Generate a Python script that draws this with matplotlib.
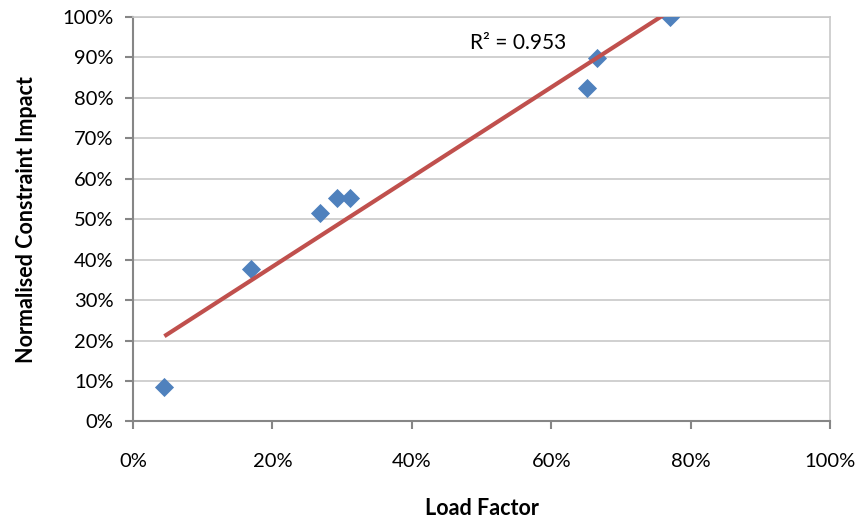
import matplotlib
matplotlib.use("Agg")
import matplotlib.pyplot as plt
import numpy as np
from matplotlib.ticker import PercentFormatter

plt.rcParams['font.family'] = ['Lato', 'DejaVu Sans']

# values (fractions)
load_factor = [0.045, 0.170, 0.268, 0.292, 0.311, 0.652, 0.665, 0.770]
constraint_impact = [0.086, 0.376, 0.514, 0.551, 0.551, 0.825, 0.899, 1.000]
r2_label = "R² = 0.953"

x = np.array(load_factor)
y = np.array(constraint_impact)
slope, intercept = np.polyfit(x, y, 1)   # linear trendline

fig = plt.figure(figsize=(8.62, 5.21), dpi=100)
ax = fig.add_axes([0.1543, 0.191, 0.8086, 0.777])

ax.scatter(x, y, marker='D', s=95, color='#4F81BD', zorder=3, linewidths=0)
xs = np.array([x.min(), x.max()])
ax.plot(xs, slope * xs + intercept, color='#C0504D', lw=3, solid_capstyle='butt', zorder=4)

ax.set_xlim(0, 1)
ax.set_ylim(0, 1)
ax.set_xticks(np.arange(0, 1.01, 0.2))
ax.set_yticks(np.arange(0, 1.01, 0.1))
ax.xaxis.set_major_formatter(PercentFormatter(1.0, decimals=0))
ax.yaxis.set_major_formatter(PercentFormatter(1.0, decimals=0))

ax.grid(axis='y', color='#C8C8C8', lw=1.2)
ax.set_axisbelow(True)
for side in ['left', 'bottom']:
    ax.spines[side].set_color('#868686')
    ax.spines[side].set_linewidth(1.5)
for side in ['top', 'right']:
    ax.spines[side].set_color('#C8C8C8')
    ax.spines[side].set_linewidth(1.2)

ax.tick_params(axis='both', direction='out', length=6, width=1.5, color='#868686',
               labelsize=14.5, labelcolor='black')
ax.tick_params(axis='x', pad=17)
ax.tick_params(axis='y', pad=8)

ax.set_xlabel('Load Factor', fontsize=15.5, fontweight='bold', labelpad=20)
ax.set_ylabel('Normalised Constraint Impact', fontsize=15.5, fontweight='bold', labelpad=18)

ax.text(0.483, 0.935, r2_label, fontsize=15, ha='left', va='center')

fig.savefig('out.png', dpi=100)
